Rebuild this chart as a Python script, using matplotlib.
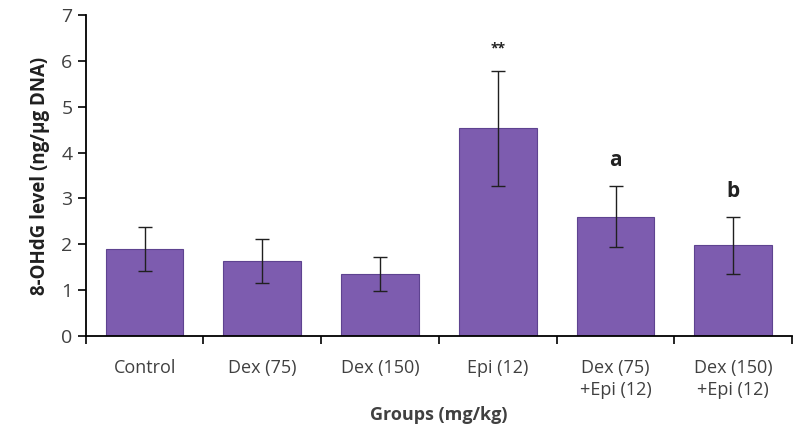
import numpy as np
import matplotlib.pyplot as plt

groups = ["Control", "Dex (75)", "Dex (150)", "Epi (12)", "Dex (75)\n+Epi (12)", "Dex (150)\n+Epi (12)"]
means = [1.90, 1.63, 1.35, 4.53, 2.60, 1.98]
errors = [0.48, 0.48, 0.38, 1.25, 0.66, 0.62]
marks = ["", "", "", "**", "a", "b"]

plt.rcParams['font.family'] = ['Open Sans', 'DejaVu Sans']

fig = plt.figure(figsize=(8.01, 4.30), dpi=100)
ax = fig.add_axes([0.107, 0.219, 0.882, 0.746])

x = np.arange(len(groups))
ax.bar(x, means, width=0.66, color='#7D5CAF', edgecolor='#5E4390', linewidth=0.8,
       yerr=errors, capsize=5, error_kw=dict(ecolor='#202020', elinewidth=1, capthick=1))

for xi, m, e, t in zip(x, means, errors, marks):
    if t:
        fs = 10 if t == "**" else 15
        ax.text(xi, m + e + 0.33, t, ha='center', va='bottom', fontsize=fs,
                fontweight='bold', color='#222222')

ax.set_xlim(-0.5, len(groups) - 0.5)
ax.set_ylim(0, 7)
ax.set_yticks(range(8))
ax.set_xticks(x)
ax.set_xticklabels(groups, linespacing=1.25)
ax.set_xticks(np.arange(len(groups) + 1) - 0.5, minor=True)
ax.tick_params(axis='x', which='major', length=0, pad=17, labelsize=13, labelcolor='#404040')
ax.tick_params(axis='x', which='minor', length=6, width=1.2, direction='out')
ax.tick_params(axis='y', length=6, width=1.2, direction='out', labelsize=14, labelcolor='#404040')

for s in ['top', 'right']:
    ax.spines[s].set_visible(False)
for s in ['left', 'bottom']:
    ax.spines[s].set_linewidth(1.3)

ax.set_xlabel("Groups (mg/kg)", fontsize=13, fontweight='bold', color='#404040', labelpad=5)
ax.set_ylabel("8-OHdG level (ng/µg DNA)", fontsize=13.5, fontweight='bold', color='#202020', labelpad=8)

fig.savefig("out.png", dpi=100)
